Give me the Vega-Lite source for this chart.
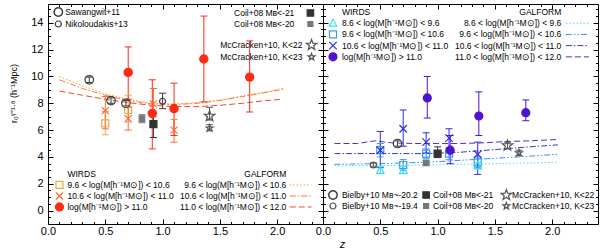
{
"$schema":"https://vega.github.io/schema/vega-lite/v6.json",
"background":"white",
"padding":{"left":8,"top":2,"right":2,"bottom":0},
"spacing":0,
"bounds":"flush",
"config":{"view":{"stroke":"black","strokeWidth":1},
 "axis":{"labelFont":"Liberation Sans","labelFontSize":11,"labelColor":"black","tickColor":"black","tickWidth":1,"domain":false,"grid":false,"labelFlush":false,"labelOverlap":false,"titleFont":"Liberation Sans","titleColor":"black","titleFontWeight":"normal"},
 "legend":{"disable":true},
 "point":{"size":100,"opacity":1,"strokeWidth":1.2},
 "text":{"font":"Liberation Sans","fontSize":8.5,"color":"black"}},
"datasets":{
 "ptsL":[
  {"z":0.5,"r":6.5,"lo":5.65,"hi":7.4,"s":"L_sq"},
  {"z":0.7,"r":7.5,"lo":6.6,"hi":8.6,"s":"L_sq"},
  {"z":0.5,"r":7.45,"lo":6.1,"hi":8.5,"s":"L_x"},
  {"z":0.7,"r":6.85,"lo":6.0,"hi":7.7,"s":"L_x"},
  {"z":0.92,"r":7.95,"lo":7.0,"hi":9.1,"s":"L_x"},
  {"z":1.1,"r":6.0,"lo":5.1,"hi":6.8,"s":"L_x"},
  {"z":0.36,"r":9.75,"lo":9.55,"hi":9.95,"s":"Saw"},
  {"z":0.55,"r":8.2,"lo":8.0,"hi":8.4,"s":"Saw"},
  {"z":0.68,"r":8.0,"lo":7.8,"hi":8.2,"s":"Saw"},
  {"z":1.0,"r":8.15,"lo":7.6,"hi":8.75,"s":"Nik"},
  {"z":0.82,"r":6.85,"lo":6.55,"hi":7.15,"s":"Coil20"},
  {"z":0.92,"r":6.45,"lo":5.45,"hi":7.25,"s":"Coil21"},
  {"z":1.41,"r":7.05,"lo":6.75,"hi":7.7,"s":"McC22"},
  {"z":1.41,"r":6.15,"lo":5.95,"hi":6.4,"s":"McC23"},
  {"z":0.7,"r":10.3,"lo":8.3,"hi":12.2,"s":"L_ci"},
  {"z":0.91,"r":7.25,"lo":4.6,"hi":9.75,"s":"L_ci"},
  {"z":1.1,"r":7.6,"lo":5.6,"hi":9.5,"s":"L_ci"},
  {"z":1.36,"r":11.3,"lo":8.1,"hi":14.5,"s":"L_ci"},
  {"z":1.76,"r":9.95,"lo":7.35,"hi":12.65,"s":"L_ci"}
 ],
 "ptsR":[
  {"z":0.5,"r":3.0,"lo":2.75,"hi":3.3,"s":"R_tri"},
  {"z":0.7,"r":3.0,"lo":2.75,"hi":3.3,"s":"R_tri"},
  {"z":1.35,"r":3.35,"lo":3.1,"hi":3.6,"s":"R_tri"},
  {"z":0.5,"r":4.5,"lo":4.0,"hi":5.0,"s":"R_sq"},
  {"z":0.7,"r":3.4,"lo":3.0,"hi":3.8,"s":"R_sq"},
  {"z":0.9,"r":4.25,"lo":3.9,"hi":4.6,"s":"R_sq"},
  {"z":1.1,"r":4.25,"lo":3.8,"hi":4.7,"s":"R_sq"},
  {"z":1.35,"r":3.6,"lo":3.2,"hi":4.0,"s":"R_sq"},
  {"z":0.5,"r":4.5,"lo":3.2,"hi":5.9,"s":"R_x"},
  {"z":0.7,"r":6.1,"lo":4.8,"hi":7.5,"s":"R_x"},
  {"z":0.9,"r":5.1,"lo":4.3,"hi":5.8,"s":"R_x"},
  {"z":1.1,"r":5.4,"lo":4.6,"hi":6.1,"s":"R_x"},
  {"z":1.35,"r":4.2,"lo":2.7,"hi":5.1,"s":"R_x"},
  {"z":0.65,"r":5.0,"lo":4.8,"hi":5.2,"s":"Bie1"},
  {"z":0.44,"r":3.4,"lo":3.25,"hi":3.55,"s":"Bie2"},
  {"z":1.0,"r":4.25,"lo":3.95,"hi":4.75,"s":"Coil21"},
  {"z":0.9,"r":3.55,"lo":3.4,"hi":3.7,"s":"Coil20"},
  {"z":1.61,"r":4.85,"lo":4.6,"hi":5.1,"s":"McC22"},
  {"z":1.71,"r":4.3,"lo":4.1,"hi":4.5,"s":"McC23"},
  {"z":0.91,"r":8.4,"lo":6.9,"hi":10.0,"s":"R_ci"},
  {"z":1.11,"r":4.5,"lo":3.5,"hi":5.6,"s":"R_ci"},
  {"z":1.36,"r":7.05,"lo":5.6,"hi":8.85,"s":"R_ci"},
  {"z":1.77,"r":7.3,"lo":6.7,"hi":8.25,"s":"R_ci"}
 ],
 "galL":[
  {"z":0.1,"r":10.0,"g":"gL1"},{"z":0.3,"r":9.3,"g":"gL1"},{"z":0.5,"r":8.7,"g":"gL1"},{"z":0.7,"r":8.3,"g":"gL1"},{"z":0.9,"r":8.0,"g":"gL1"},{"z":1.1,"r":7.95,"g":"gL1"},{"z":1.3,"r":8.05,"g":"gL1"},{"z":1.5,"r":8.25,"g":"gL1"},{"z":1.7,"r":8.55,"g":"gL1"},{"z":1.9,"r":8.85,"g":"gL1"},{"z":2.05,"r":9.1,"g":"gL1"},
  {"z":0.1,"r":9.75,"g":"gL2"},{"z":0.3,"r":9.1,"g":"gL2"},{"z":0.5,"r":8.6,"g":"gL2"},{"z":0.7,"r":8.2,"g":"gL2"},{"z":0.9,"r":7.95,"g":"gL2"},{"z":1.1,"r":7.9,"g":"gL2"},{"z":1.3,"r":8.0,"g":"gL2"},{"z":1.5,"r":8.2,"g":"gL2"},{"z":1.7,"r":8.5,"g":"gL2"},{"z":1.9,"r":8.8,"g":"gL2"},{"z":2.05,"r":9.05,"g":"gL2"},
  {"z":0.1,"r":8.9,"g":"gL3"},{"z":0.3,"r":8.6,"g":"gL3"},{"z":0.5,"r":8.3,"g":"gL3"},{"z":0.7,"r":8.05,"g":"gL3"},{"z":0.9,"r":7.85,"g":"gL3"},{"z":1.1,"r":7.75,"g":"gL3"},{"z":1.3,"r":7.75,"g":"gL3"},{"z":1.5,"r":7.85,"g":"gL3"},{"z":1.7,"r":8.0,"g":"gL3"},{"z":1.9,"r":8.2,"g":"gL3"},{"z":2.05,"r":8.3,"g":"gL3"}
 ],
 "galR":[
  {"z":0.1,"r":3.35,"g":"gR0"},{"z":0.5,"r":3.35,"g":"gR0"},{"z":0.9,"r":3.4,"g":"gR0"},{"z":1.2,"r":3.45,"g":"gR0"},{"z":1.5,"r":3.5,"g":"gR0"},{"z":1.8,"r":3.55,"g":"gR0"},{"z":2.05,"r":3.6,"g":"gR0"},
  {"z":0.1,"r":3.45,"g":"gR1"},{"z":0.5,"r":3.5,"g":"gR1"},{"z":0.9,"r":3.6,"g":"gR1"},{"z":1.2,"r":3.75,"g":"gR1"},{"z":1.5,"r":3.9,"g":"gR1"},{"z":1.8,"r":4.05,"g":"gR1"},{"z":2.05,"r":4.2,"g":"gR1"},
  {"z":0.1,"r":4.25,"g":"gR2"},{"z":0.5,"r":4.25,"g":"gR2"},{"z":0.9,"r":4.25,"g":"gR2"},{"z":1.2,"r":4.35,"g":"gR2"},{"z":1.5,"r":4.55,"g":"gR2"},{"z":1.8,"r":4.75,"g":"gR2"},{"z":2.05,"r":4.9,"g":"gR2"},
  {"z":0.1,"r":5.0,"g":"gR3"},{"z":0.3,"r":5.0,"g":"gR3"},{"z":0.45,"r":5.2,"g":"gR3"},{"z":0.6,"r":5.05,"g":"gR3"},{"z":0.8,"r":5.0,"g":"gR3"},{"z":1.0,"r":5.0,"g":"gR3"},{"z":1.2,"r":5.0,"g":"gR3"},{"z":1.4,"r":5.05,"g":"gR3"},{"z":1.6,"r":5.15,"g":"gR3"},{"z":1.8,"r":5.2,"g":"gR3"},{"z":2.05,"r":5.3,"g":"gR3"}
 ]
},
"hconcat":[
{
 "width":275,"height":220,
 "layer":[
  {"data":{"name":"galL"},"mark":{"type":"line","strokeWidth":1},
   "encoding":{
    "x":{"field":"z","type":"quantitative","scale":{"domain":[0,2.4],"nice":false,"zero":false},
      "axis":{"orient":"bottom","values":[0,0.1,0.2,0.3,0.4,0.5,0.6,0.7,0.8,0.9,1,1.1,1.2,1.3,1.4,1.5,1.6,1.7,1.8,1.9,2,2.1,2.2,2.3,2.4],"labelExpr":"abs(datum.value*2-round(datum.value*2))<0.01 ? format(datum.value,'.1f') : ''","tickSize":{"condition":{"test":"abs(datum.value*2-round(datum.value*2))<0.01","value":-5},"value":-2.5},"labelPadding":6,"title":null}},
    "y":{"field":"r","type":"quantitative","scale":{"domain":[-1,15.4],"nice":false,"zero":false},
      "axis":{"orient":"left","values":[-0.5,0,0.5,1,1.5,2,2.5,3,3.5,4,4.5,5,5.5,6,6.5,7,7.5,8,8.5,9,9.5,10,10.5,11,11.5,12,12.5,13,13.5,14,14.5,15],"labelExpr":"datum.value>=0 && abs(datum.value/2-round(datum.value/2))<0.01 ? format(datum.value,'d') : ''","tickSize":{"condition":{"test":"abs(datum.value/2-round(datum.value/2))<0.01","value":-5},"value":-2.5},"labelPadding":10,"title":"r₀ᵞ⁼¹·⁸ (h⁻¹Mpc)","titleFontSize":9,"titleX":-30,"titleY":89}},
    "stroke":{"field":"g","type":"nominal","scale":{"domain":["L_sq","L_x","L_ci","R_tri","R_sq","R_x","R_ci","Saw","Nik","Bie1","Bie2","Coil21","Coil20","McC22","McC23","gL1","gL2","gL3","gR0","gR1","gR2","gR3"],"range":["#f5a442","#ff6a35","#ff2a12","#38e2f0","#3c9af2","#2c2ce6","#4e12d2","#3a3a3a","#3a3a3a","#3a3a3a","#4a4a4a","#333333","#777777","#555555","#555555","#f0a030","#ff7535","#ec4a30","#40e4f0","#3a90ee","#3038d8","#5a28c8"]}},
    "strokeDash":{"field":"g","type":"nominal","scale":{"domain":["gL1","gL2","gL3","gR0","gR1","gR2","gR3"],"range":[[1.5,2],[6,2,1.5,2],[6,3],[1.5,2],[6,2,1.5,2,1.5,2],[6,2,1.5,2],[6,3]]}}
   }},
  {"data":{"name":"ptsL"},"mark":{"type":"rule","strokeWidth":1},
   "encoding":{"x":{"field":"z","type":"quantitative","axis":null},"y":{"field":"lo","type":"quantitative","axis":null},"y2":{"field":"hi"},
    "stroke":{"field":"s","type":"nominal"}}},
  {"data":{"name":"ptsL"},"mark":{"type":"tick","orient":"horizontal","size":7,"thickness":1,"opacity":1},
   "encoding":{"x":{"field":"z","type":"quantitative","axis":null},"y":{"field":"lo","type":"quantitative","axis":null},
    "color":{"field":"s","type":"nominal","scale":{"domain":["L_sq","L_x","L_ci","R_tri","R_sq","R_x","R_ci","Saw","Nik","Bie1","Bie2","Coil21","Coil20","McC22","McC23"],"range":["#f5a442","#ff6a35","#ff2a12","#38e2f0","#3c9af2","#2c2ce6","#4e12d2","#3a3a3a","#3a3a3a","#3a3a3a","#4a4a4a","#333333","#777777","#555555","#555555"]}}}},
  {"data":{"name":"ptsL"},"mark":{"type":"tick","orient":"horizontal","size":7,"thickness":1,"opacity":1},
   "encoding":{"x":{"field":"z","type":"quantitative","axis":null},"y":{"field":"hi","type":"quantitative","axis":null},
    "color":{"field":"s","type":"nominal"}}},
  {"data":{"name":"ptsL"},"mark":{"type":"point"},
   "encoding":{
    "x":{"field":"z","type":"quantitative","axis":{"orient":"top","values":[0,0.1,0.2,0.3,0.4,0.5,0.6,0.7,0.8,0.9,1,1.1,1.2,1.3,1.4,1.5,1.6,1.7,1.8,1.9,2,2.1,2.2,2.3,2.4],"labels":false,"tickSize":{"condition":{"test":"abs(datum.value*2-round(datum.value*2))<0.01","value":-5},"value":-2.5},"title":null}},
    "y":{"field":"r","type":"quantitative","axis":{"orient":"right","values":[-0.5,0,0.5,1,1.5,2,2.5,3,3.5,4,4.5,5,5.5,6,6.5,7,7.5,8,8.5,9,9.5,10,10.5,11,11.5,12,12.5,13,13.5,14,14.5,15],"labels":false,"tickSize":{"condition":{"test":"abs(datum.value/2-round(datum.value/2))<0.01","value":-5},"value":-2.5},"title":null}},
    "stroke":{"field":"s","type":"nominal"},
    "shape":{"field":"s","type":"nominal","scale":{"domain":["L_sq","L_x","L_ci","R_tri","R_sq","R_x","R_ci","Saw","Nik","Bie1","Bie2","Coil21","Coil20","McC22","McC23"],"range":[
      "M-0.7,-0.7H0.7V0.7H-0.7Z",
      "M-0.7,-0.7L0.7,0.7M-0.7,0.7L0.7,-0.7",
      "M0.82,0A0.82,0.82 0 1,1 -0.82,0A0.82,0.82 0 1,1 0.82,0Z",
      "M0,-0.8L0.75,0.6L-0.75,0.6Z",
      "M-0.7,-0.7H0.7V0.7H-0.7Z",
      "M-0.75,-0.75L0.75,0.75M-0.75,0.75L0.75,-0.75",
      "M0.8,0A0.8,0.8 0 1,1 -0.8,0A0.8,0.8 0 1,1 0.8,0Z",
      "M0.85,0A0.85,0.85 0 1,1 -0.85,0A0.85,0.85 0 1,1 0.85,0Z",
      "M0.6,0A0.6,0.6 0 1,1 -0.6,0A0.6,0.6 0 1,1 0.6,0Z",
      "M0.85,0A0.85,0.85 0 1,1 -0.85,0A0.85,0.85 0 1,1 0.85,0Z",
      "M0.6,0A0.6,0.6 0 1,1 -0.6,0A0.6,0.6 0 1,1 0.6,0Z",
      "M-0.7,-0.7H0.7V0.7H-0.7Z",
      "M-0.55,-0.55H0.55V0.55H-0.55Z",
      "M0,-1.1L0.259,-0.356L1.046,-0.34L0.418,0.136L0.647,0.89L0,0.44L-0.647,0.89L-0.418,0.136L-1.046,-0.34L-0.259,-0.356Z",
      "M0,-0.72L0.169,-0.233L0.685,-0.222L0.274,0.089L0.423,0.582L0,0.288L-0.423,0.582L-0.274,0.089L-0.685,-0.222L-0.169,-0.233Z"]}},
    "fill":{"field":"s","type":"nominal","scale":{"domain":["L_sq","L_x","L_ci","R_tri","R_sq","R_x","R_ci","Saw","Nik","Bie1","Bie2","Coil21","Coil20","McC22","McC23"],"range":["transparent","transparent","#ff2a12","transparent","transparent","transparent","#4e12d2","transparent","transparent","transparent","transparent","#333333","#777777","transparent","transparent"]}}
   }},
  {"data":{"values":[{}]},"mark":{"type":"text","text":["Sawangwit+11","Nikoloudakis+13"],"align":"left","baseline":"top","lineHeight":12},"encoding":{"x":{"datum":0.15,"axis":null},"y":{"datum":15.1,"axis":null}}},
  {"data":{"values":[{}]},"mark":{"type":"text","text":["Coil+08 Mʙ<-21","Coil+08 Mʙ<-20"],"align":"right","baseline":"top","lineHeight":11.5},"encoding":{"x":{"datum":2.15,"axis":null},"y":{"datum":15.03,"axis":null}}},
  {"data":{"values":[{}]},"mark":{"type":"text","text":["McCracken+10, K<22","McCracken+10, K<23"],"align":"right","baseline":"top","lineHeight":12},"encoding":{"x":{"datum":2.22,"axis":null},"y":{"datum":12.64,"axis":null}}},
  {"data":{"values":[{}]},"mark":{"type":"text","text":["WIRDS","9.6 < log(M[h⁻¹M⊙]) < 10.6","10.6 < log(M[h⁻¹M⊙]) < 11.0","log(M[h⁻¹M⊙]) > 11.0"],"align":"left","baseline":"top","lineHeight":11},"encoding":{"x":{"datum":0.17,"axis":null},"y":{"datum":3.03,"axis":null}}},
  {"data":{"values":[{}]},"mark":{"type":"text","text":["GALFORM","9.6 < log(M[h⁻¹M⊙]) < 10.6","10.6 < log(M[h⁻¹M⊙]) < 11.0","11.0 < log(M[h⁻¹M⊙]) < 12.0"],"align":"right","baseline":"top","lineHeight":11},"encoding":{"x":{"datum":2.08,"axis":null},"y":{"datum":3.03,"axis":null}}},
  {"data":{"values":[{}]},"mark":{"type":"point","shape":"M0.85,0A0.85,0.85 0 1,1 -0.85,0A0.85,0.85 0 1,1 0.85,0Z","stroke":"#3a3a3a","strokeWidth":1.4,"fill":"transparent"},"encoding":{"x":{"datum":0.09,"axis":null},"y":{"datum":14.8,"axis":null}}},
  {"data":{"values":[{}]},"mark":{"type":"point","shape":"M0.6,0A0.6,0.6 0 1,1 -0.6,0A0.6,0.6 0 1,1 0.6,0Z","stroke":"#3a3a3a","fill":"transparent"},"encoding":{"x":{"datum":0.09,"axis":null},"y":{"datum":13.91,"axis":null}}},
  {"data":{"values":[{}]},"mark":{"type":"point","shape":"M-0.65,-0.65H0.65V0.65H-0.65Z","stroke":"#333333","fill":"#333333"},"encoding":{"x":{"datum":2.29,"axis":null},"y":{"datum":14.73,"axis":null}}},
  {"data":{"values":[{}]},"mark":{"type":"point","shape":"M-0.5,-0.5H0.5V0.5H-0.5Z","stroke":"#777777","fill":"#777777"},"encoding":{"x":{"datum":2.29,"axis":null},"y":{"datum":13.91,"axis":null}}},
  {"data":{"values":[{}]},"mark":{"type":"point","shape":"M0,-1.1L0.259,-0.356L1.046,-0.34L0.418,0.136L0.647,0.89L0,0.44L-0.647,0.89L-0.418,0.136L-1.046,-0.34L-0.259,-0.356Z","stroke":"#555555","fill":"transparent"},"encoding":{"x":{"datum":2.3,"axis":null},"y":{"datum":12.34,"axis":null}}},
  {"data":{"values":[{}]},"mark":{"type":"point","shape":"M0,-0.72L0.169,-0.233L0.685,-0.222L0.274,0.089L0.423,0.582L0,0.288L-0.423,0.582L-0.274,0.089L-0.685,-0.222L-0.169,-0.233Z","stroke":"#555555","fill":"transparent"},"encoding":{"x":{"datum":2.3,"axis":null},"y":{"datum":11.45,"axis":null}}},
  {"data":{"values":[{}]},"mark":{"type":"point","shape":"M-0.7,-0.7H0.7V0.7H-0.7Z","stroke":"#f5a442","fill":"transparent"},"encoding":{"x":{"datum":0.1,"axis":null},"y":{"datum":1.91,"axis":null}}},
  {"data":{"values":[{}]},"mark":{"type":"point","shape":"M-0.7,-0.7L0.7,0.7M-0.7,0.7L0.7,-0.7","stroke":"#ff6a35","fill":"transparent"},"encoding":{"x":{"datum":0.1,"axis":null},"y":{"datum":1.09,"axis":null}}},
  {"data":{"values":[{}]},"mark":{"type":"point","shape":"M0.8,0A0.8,0.8 0 1,1 -0.8,0A0.8,0.8 0 1,1 0.8,0Z","stroke":"#ff2a12","fill":"#ff2a12"},"encoding":{"x":{"datum":0.1,"axis":null},"y":{"datum":0.27,"axis":null}}},
  {"data":{"values":[{}]},"mark":{"type":"rule","stroke":"#f0a030","strokeDash":[1.5,2],"strokeWidth":1},"encoding":{"x":{"datum":2.11,"axis":null},"x2":{"datum":2.3},"y":{"datum":1.91,"axis":null}}},
  {"data":{"values":[{}]},"mark":{"type":"rule","stroke":"#ff7535","strokeDash":[6,2,1.5,2],"strokeWidth":1},"encoding":{"x":{"datum":2.11,"axis":null},"x2":{"datum":2.3},"y":{"datum":1.09,"axis":null}}},
  {"data":{"values":[{}]},"mark":{"type":"rule","stroke":"#ec4a30","strokeDash":[6,3],"strokeWidth":1},"encoding":{"x":{"datum":2.11,"axis":null},"x2":{"datum":2.3},"y":{"datum":0.27,"axis":null}}}
 ]
},
{
 "width":275,"height":220,
 "layer":[
  {"data":{"name":"galR"},"mark":{"type":"line","strokeWidth":1},
   "encoding":{
    "x":{"field":"z","type":"quantitative","scale":{"domain":[0,2.4],"nice":false,"zero":false},
      "axis":{"orient":"bottom","values":[0,0.1,0.2,0.3,0.4,0.5,0.6,0.7,0.8,0.9,1,1.1,1.2,1.3,1.4,1.5,1.6,1.7,1.8,1.9,2,2.1,2.2,2.3,2.4],"labelExpr":"abs(datum.value*2-round(datum.value*2))<0.01 ? format(datum.value,'.1f') : ''","tickSize":{"condition":{"test":"abs(datum.value*2-round(datum.value*2))<0.01","value":-5},"value":-2.5},"labelPadding":6,"title":"z","titleFontStyle":"italic","titleFontSize":11,"titleX":19,"titleY":14}},
    "y":{"field":"r","type":"quantitative","scale":{"domain":[-1,15.4],"nice":false,"zero":false},
      "axis":{"orient":"left","values":[-0.5,0,0.5,1,1.5,2,2.5,3,3.5,4,4.5,5,5.5,6,6.5,7,7.5,8,8.5,9,9.5,10,10.5,11,11.5,12,12.5,13,13.5,14,14.5,15],"labels":false,"tickSize":{"condition":{"test":"abs(datum.value/2-round(datum.value/2))<0.01","value":-5},"value":-2.5},"title":null}},
    "stroke":{"field":"g","type":"nominal"},
    "strokeDash":{"field":"g","type":"nominal"}
   }},
  {"data":{"name":"ptsR"},"mark":{"type":"rule","strokeWidth":1},
   "encoding":{"x":{"field":"z","type":"quantitative","axis":null},"y":{"field":"lo","type":"quantitative","axis":null},"y2":{"field":"hi"},
    "stroke":{"field":"s","type":"nominal"}}},
  {"data":{"name":"ptsR"},"mark":{"type":"tick","orient":"horizontal","size":7,"thickness":1,"opacity":1},
   "encoding":{"x":{"field":"z","type":"quantitative","axis":null},"y":{"field":"lo","type":"quantitative","axis":null},
    "color":{"field":"s","type":"nominal"}}},
  {"data":{"name":"ptsR"},"mark":{"type":"tick","orient":"horizontal","size":7,"thickness":1,"opacity":1},
   "encoding":{"x":{"field":"z","type":"quantitative","axis":null},"y":{"field":"hi","type":"quantitative","axis":null},
    "color":{"field":"s","type":"nominal"}}},
  {"data":{"name":"ptsR"},"mark":{"type":"point"},
   "encoding":{
    "x":{"field":"z","type":"quantitative","axis":{"orient":"top","values":[0,0.1,0.2,0.3,0.4,0.5,0.6,0.7,0.8,0.9,1,1.1,1.2,1.3,1.4,1.5,1.6,1.7,1.8,1.9,2,2.1,2.2,2.3,2.4],"labels":false,"tickSize":{"condition":{"test":"abs(datum.value*2-round(datum.value*2))<0.01","value":-5},"value":-2.5},"title":null}},
    "y":{"field":"r","type":"quantitative","axis":{"orient":"right","values":[-0.5,0,0.5,1,1.5,2,2.5,3,3.5,4,4.5,5,5.5,6,6.5,7,7.5,8,8.5,9,9.5,10,10.5,11,11.5,12,12.5,13,13.5,14,14.5,15],"labels":false,"tickSize":{"condition":{"test":"abs(datum.value/2-round(datum.value/2))<0.01","value":-5},"value":-2.5},"title":null}},
    "stroke":{"field":"s","type":"nominal"},
    "shape":{"field":"s","type":"nominal"},
    "fill":{"field":"s","type":"nominal"}
   }},
  {"data":{"values":[{}]},"mark":{"type":"text","text":["WIRDS","8.6 < log(M[h⁻¹M⊙]) <  9.6","9.6 < log(M[h⁻¹M⊙]) < 10.6","10.6 < log(M[h⁻¹M⊙]) < 11.0","log(M[h⁻¹M⊙]) > 11.0"],"align":"left","baseline":"top","lineHeight":11.2},"encoding":{"x":{"datum":0.165,"axis":null},"y":{"datum":15.1,"axis":null}}},
  {"data":{"values":[{}]},"mark":{"type":"text","text":["GALFORM","8.6 < log(M[h⁻¹M⊙]) <  9.6","9.6 < log(M[h⁻¹M⊙]) < 10.6","10.6 < log(M[h⁻¹M⊙]) < 11.0","11.0 < log(M[h⁻¹M⊙]) < 12.0"],"align":"right","baseline":"top","lineHeight":11.2},"encoding":{"x":{"datum":2.08,"axis":null},"y":{"datum":15.1,"axis":null}}},
  {"data":{"values":[{}]},"mark":{"type":"text","text":["Bielby+10 Mʙ~-20.2","Bielby+10 Mʙ~-19.4"],"align":"left","baseline":"top","lineHeight":11},"encoding":{"x":{"datum":0.165,"axis":null},"y":{"datum":1.46,"axis":null}}},
  {"data":{"values":[{}]},"mark":{"type":"text","text":["Coil+08 Mʙ<-21","Coil+08 Mʙ<-20"],"align":"left","baseline":"top","lineHeight":11},"encoding":{"x":{"datum":0.96,"axis":null},"y":{"datum":1.46,"axis":null}}},
  {"data":{"values":[{}]},"mark":{"type":"text","text":["McCracken+10, K<22","McCracken+10, K<23"],"align":"left","baseline":"top","lineHeight":11},"encoding":{"x":{"datum":1.65,"axis":null},"y":{"datum":1.46,"axis":null}}},
  {"data":{"values":[{}]},"mark":{"type":"point","shape":"M0,-0.8L0.75,0.6L-0.75,0.6Z","stroke":"#38e2f0","fill":"transparent"},"encoding":{"x":{"datum":0.087,"axis":null},"y":{"datum":13.97,"axis":null}}},
  {"data":{"values":[{}]},"mark":{"type":"point","shape":"M-0.7,-0.7H0.7V0.7H-0.7Z","stroke":"#3c9af2","fill":"transparent"},"encoding":{"x":{"datum":0.087,"axis":null},"y":{"datum":13.13,"axis":null}}},
  {"data":{"values":[{}]},"mark":{"type":"point","shape":"M-0.75,-0.75L0.75,0.75M-0.75,0.75L0.75,-0.75","stroke":"#2c2ce6","fill":"transparent"},"encoding":{"x":{"datum":0.087,"axis":null},"y":{"datum":12.3,"axis":null}}},
  {"data":{"values":[{}]},"mark":{"type":"point","shape":"M0.8,0A0.8,0.8 0 1,1 -0.8,0A0.8,0.8 0 1,1 0.8,0Z","stroke":"#4e12d2","fill":"#4e12d2"},"encoding":{"x":{"datum":0.087,"axis":null},"y":{"datum":11.46,"axis":null}}},
  {"data":{"values":[{}]},"mark":{"type":"rule","stroke":"#40e4f0","strokeDash":[1.5,2],"strokeWidth":1},"encoding":{"x":{"datum":2.12,"axis":null},"x2":{"datum":2.32},"y":{"datum":13.97,"axis":null}}},
  {"data":{"values":[{}]},"mark":{"type":"rule","stroke":"#3a90ee","strokeDash":[6,2,1.5,2,1.5,2],"strokeWidth":1},"encoding":{"x":{"datum":2.12,"axis":null},"x2":{"datum":2.32},"y":{"datum":13.13,"axis":null}}},
  {"data":{"values":[{}]},"mark":{"type":"rule","stroke":"#3038d8","strokeDash":[6,2,1.5,2],"strokeWidth":1},"encoding":{"x":{"datum":2.12,"axis":null},"x2":{"datum":2.32},"y":{"datum":12.3,"axis":null}}},
  {"data":{"values":[{}]},"mark":{"type":"rule","stroke":"#5a28c8","strokeDash":[6,3],"strokeWidth":1},"encoding":{"x":{"datum":2.12,"axis":null},"x2":{"datum":2.32},"y":{"datum":11.46,"axis":null}}},
  {"data":{"values":[{}]},"mark":{"type":"point","shape":"M0.85,0A0.85,0.85 0 1,1 -0.85,0A0.85,0.85 0 1,1 0.85,0Z","stroke":"#3a3a3a","strokeWidth":1.4,"fill":"transparent"},"encoding":{"x":{"datum":0.087,"axis":null},"y":{"datum":1.16,"axis":null}}},
  {"data":{"values":[{}]},"mark":{"type":"point","shape":"M0.6,0A0.6,0.6 0 1,1 -0.6,0A0.6,0.6 0 1,1 0.6,0Z","stroke":"#4a4a4a","fill":"transparent"},"encoding":{"x":{"datum":0.087,"axis":null},"y":{"datum":0.34,"axis":null}}},
  {"data":{"values":[{}]},"mark":{"type":"point","shape":"M-0.65,-0.65H0.65V0.65H-0.65Z","stroke":"#333333","fill":"#333333"},"encoding":{"x":{"datum":0.9,"axis":null},"y":{"datum":1.16,"axis":null}}},
  {"data":{"values":[{}]},"mark":{"type":"point","shape":"M-0.5,-0.5H0.5V0.5H-0.5Z","stroke":"#777777","fill":"#777777"},"encoding":{"x":{"datum":0.9,"axis":null},"y":{"datum":0.34,"axis":null}}},
  {"data":{"values":[{}]},"mark":{"type":"point","shape":"M0,-1.1L0.259,-0.356L1.046,-0.34L0.418,0.136L0.647,0.89L0,0.44L-0.647,0.89L-0.418,0.136L-1.046,-0.34L-0.259,-0.356Z","stroke":"#555555","fill":"transparent"},"encoding":{"x":{"datum":1.6,"axis":null},"y":{"datum":1.16,"axis":null}}},
  {"data":{"values":[{}]},"mark":{"type":"point","shape":"M0,-0.72L0.169,-0.233L0.685,-0.222L0.274,0.089L0.423,0.582L0,0.288L-0.423,0.582L-0.274,0.089L-0.685,-0.222L-0.169,-0.233Z","stroke":"#555555","fill":"transparent"},"encoding":{"x":{"datum":1.6,"axis":null},"y":{"datum":0.34,"axis":null}}}
 ]
}
]
}
